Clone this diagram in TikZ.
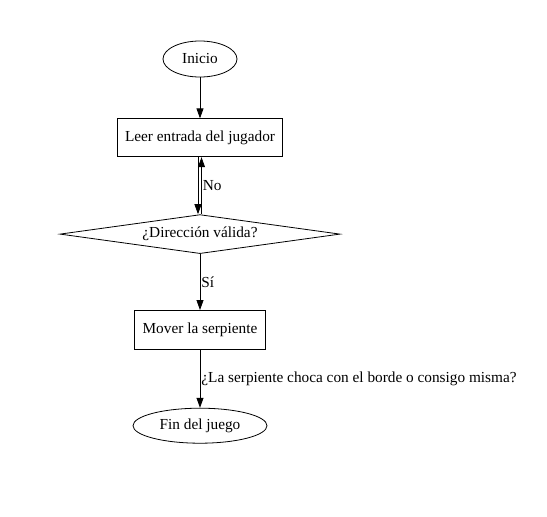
\documentclass[tikz,border=0pt]{standalone}
\usepackage{fontspec}
\setmainfont{Liberation Serif}
\usetikzlibrary{positioning,shapes.geometric,arrows.meta}

\begin{document}
\begin{tikzpicture}[x=1pt, y=-1pt, node distance = 57pt,
        font=\fontsize{15.3}{17}\selectfont]
        \tikzset{Term/.style = {draw, ellipse, line width=0.8pt, inner sep=0pt},
            Proc/.style = {draw, rectangle, line width=0.8pt, inner sep=0pt},
            Cond/.style = {draw, diamond, aspect=7.2, line width=0.8pt, inner sep=0pt,
            minimum width=280pt, minimum height=39pt},
            EdgeStyle/.style = {line width=0.8pt,
            -{Triangle[length=10pt, width=7pt]}},
            LabelStyle/.style = {right, inner sep=1pt}}
        \useasboundingbox (0,0) rectangle (547,517);
        \node[Term, minimum width=74pt, minimum height=36pt] (Ini) at (200,59) {Inicio};
        \node[Proc, minimum width=165pt, minimum height=38pt, below=41pt of Ini] (Leer) {Leer entrada del jugador};
        \node[Cond, below=of Leer] (Dir) {¿Dirección válida?};
        \node[Proc, minimum width=131pt, minimum height=39pt, below=56pt of Dir] (Mov) {Mover la serpiente};
        \node[Term, minimum width=134pt, minimum height=35pt, below=58pt of Mov] (Fin) {Fin del juego};
        \draw[EdgeStyle] (Ini) -- (Leer);
        \draw[EdgeStyle] ([xshift=-2pt]Leer.south) -- ([xshift=-2pt]Dir.north);
        \draw[EdgeStyle] ([xshift=1.5pt]Dir.north) -- ([xshift=1.5pt]Leer.south)
            node[LabelStyle, midway] {No};
        \draw[EdgeStyle] (Dir) -- (Mov) node[LabelStyle, midway] {Sí};
        \draw[EdgeStyle] (Mov) -- (Fin)
            node[LabelStyle, midway] {¿La serpiente choca con el borde o consigo misma?};
      \end{tikzpicture}
\end{document}
